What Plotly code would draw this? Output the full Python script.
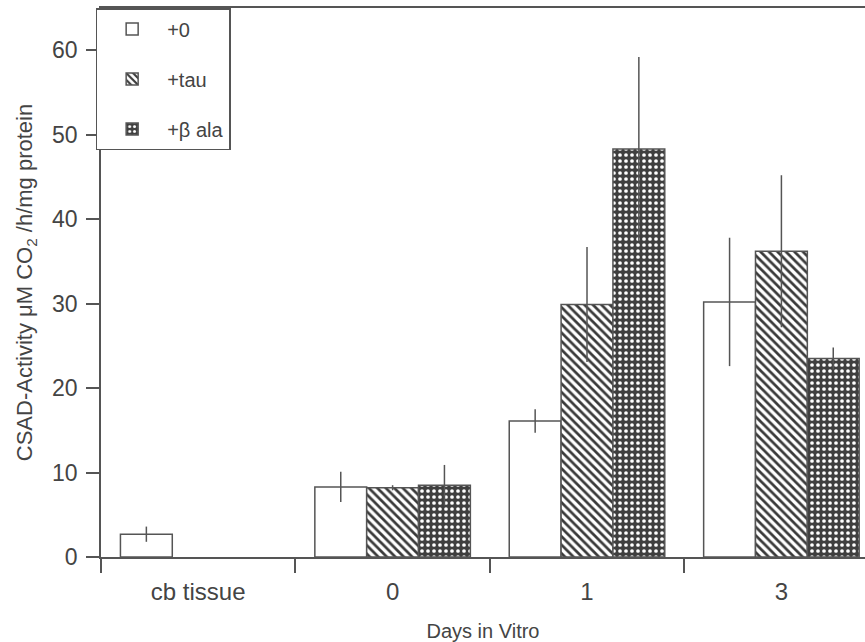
import plotly.graph_objects as go

categories = ["cb tissue", "0", "1", "3"]
series_names = ["+0", "+tau", "+β ala"]
vals_0 = [2.7, 8.3, 16.1, 30.2]
err_0 = [0.9, 1.8, 1.4, 7.6]
vals_tau = [None, 8.2, 29.9, 36.2]
err_tau = [None, 0.3, 6.8, 9.0]
vals_ala = [None, 8.5, 48.3, 23.5]
err_ala = [None, 2.4, 10.9, 1.3]

line_col = "#555555"
text_col = "#444444"
font_fam = "Liberation Sans, Arial, sans-serif"

fig = go.Figure()

styles = [
    dict(color="white", pattern=dict(shape="")),
    dict(color="white", pattern=dict(shape="\\", fgcolor="#3a3a3a", bgcolor="white",
                                      size=6, solidity=0.45, fillmode="replace")),
    dict(color="#444444", pattern=dict(shape=".", fgcolor="white", bgcolor="#3f3f3f",
                                        size=6, solidity=0.3, fillmode="replace")),
]

for i, (name, v, e) in enumerate(zip(series_names, [vals_0, vals_tau, vals_ala],
                                     [err_0, err_tau, err_ala])):
    st = styles[i]
    fig.add_trace(go.Bar(
        x=categories, y=v, name=name, legendgroup=name,
        marker=dict(color=st["color"], pattern=st["pattern"],
                    line=dict(color=line_col, width=1.5)),
        error_y=dict(type="data", array=e, symmetric=True, width=0,
                     thickness=1.5, color=line_col),
    ))

fig.update_layout(
    width=865, height=642,
    margin=dict(l=101, r=0, t=8, b=85),
    paper_bgcolor="white", plot_bgcolor="white",
    barmode="group", bargap=0.2, bargroupgap=0,
    font=dict(family=font_fam, size=20, color=text_col),
    showlegend=True,
    legend=dict(x=-0.007, y=1, xanchor="left", yanchor="top",
                bordercolor=line_col, borderwidth=1.5, bgcolor="white",
                font=dict(size=20, color=text_col),
                tracegroupgap=21, itemwidth=60),
    xaxis=dict(
        type="category", range=[-0.5, 3.43], automargin=False,
        showline=True, linecolor=line_col, linewidth=1.5, mirror=True,
        ticks="outside", tickson="boundaries", ticklen=14, tickwidth=1.5,
        tickcolor=line_col, showgrid=False, zeroline=False,
        tickfont=dict(size=24), ticklabelstandoff=12,
        title=dict(text="Days in Vitro", font=dict(size=20), standoff=25),
    ),
    yaxis=dict(
        range=[0, 65], tickvals=[0, 10, 20, 30, 40, 50, 60], automargin=False,
        showline=True, linecolor=line_col, linewidth=1.5,
        ticks="outside", ticklen=13, tickwidth=1.5, tickcolor=line_col,
        showgrid=False, zeroline=False,
        tickfont=dict(size=23), ticklabelstandoff=4,
        title=dict(text="CSAD-Activity μM CO<sub>2</sub> /h/mg protein",
                   font=dict(size=22), standoff=13),
    ),
)

fig.write_html("out.html")
